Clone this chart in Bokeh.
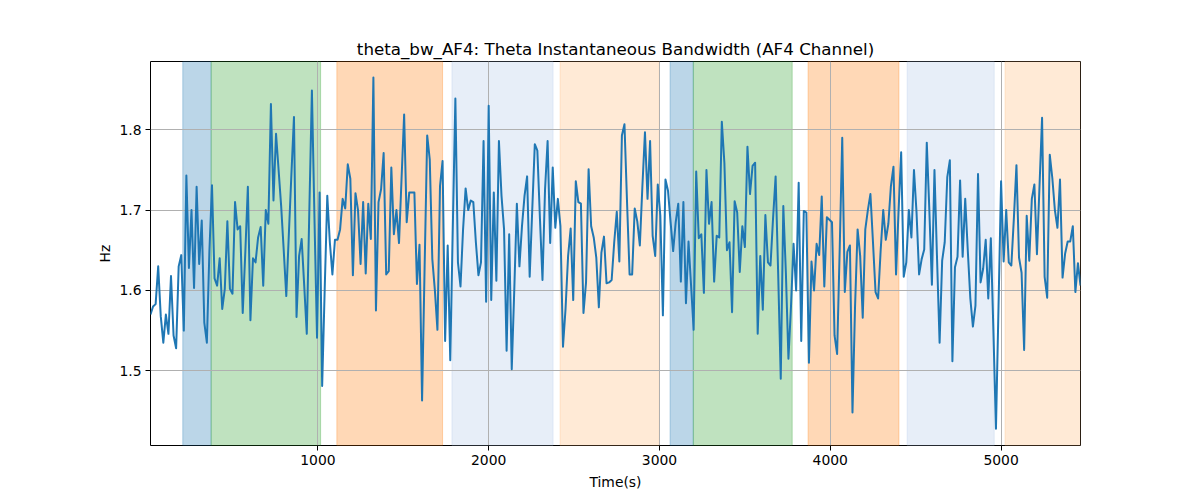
from bokeh.plotting import figure
from bokeh.models import Range1d, BoxAnnotation, FixedTicker
from bokeh.embed import file_html
from bokeh.resources import INLINE

# ---- data ----
t_start = 20      # first sample time (s)
t_step = 15       # sampling step (s)

bw_values = [
    1.57, 1.58, 1.583, 1.63, 1.568, 1.535, 1.57, 1.546, 1.618, 1.544, 1.528, 1.63, 1.644, 1.55, 1.743, 1.628,
    1.70, 1.603, 1.729, 1.633, 1.687, 1.56, 1.535, 1.65, 1.731, 1.615, 1.606, 1.64, 1.577, 1.602, 1.686, 1.602,
    1.596, 1.71, 1.676, 1.68, 1.572, 1.647, 1.729, 1.563, 1.64, 1.635, 1.666, 1.679, 1.606, 1.70,
    1.683, 1.832, 1.712, 1.795, 1.75, 1.705, 1.65, 1.593, 1.67, 1.745, 1.816, 1.567, 1.643, 1.664, 1.606, 1.546,
    1.70, 1.849, 1.69, 1.541, 1.722, 1.481, 1.602, 1.718, 1.66, 1.62, 1.663, 1.663, 1.676, 1.714, 1.702, 1.757,
    1.739, 1.619, 1.721, 1.70, 1.633, 1.71, 1.621, 1.708, 1.664, 1.865, 1.575, 1.71, 1.726,
    1.771, 1.62, 1.624, 1.753, 1.67, 1.70, 1.659, 1.74, 1.819, 1.685, 1.722, 1.722, 1.722, 1.608, 1.657, 1.463,
    1.63, 1.793, 1.763, 1.639, 1.60, 1.551, 1.73, 1.761, 1.537, 1.656, 1.513, 1.68, 1.839, 1.635, 1.605, 1.676,
    1.727, 1.70, 1.712, 1.71, 1.66, 1.619, 1.635, 1.786, 1.586, 1.83, 1.588, 1.722, 1.612,
    1.786, 1.718, 1.676, 1.525, 1.67, 1.502, 1.602, 1.708, 1.63, 1.68, 1.718, 1.742, 1.617, 1.70, 1.782, 1.774,
    1.69, 1.613, 1.726, 1.786, 1.659, 1.753, 1.678, 1.714, 1.68, 1.53, 1.577, 1.643, 1.677, 1.588, 1.736, 1.71,
    1.708, 1.572, 1.61, 1.751, 1.68, 1.666, 1.641, 1.579, 1.647, 1.667, 1.609, 1.61, 1.613,
    1.66, 1.698, 1.636, 1.793, 1.807, 1.71, 1.62, 1.62, 1.702, 1.686, 1.656, 1.73, 1.797, 1.714, 1.786, 1.668,
    1.643, 1.732, 1.693, 1.569, 1.738, 1.724, 1.685, 1.649, 1.685, 1.708, 1.611, 1.71, 1.584, 1.661, 1.606, 1.551,
    1.748, 1.665, 1.67, 1.597, 1.75, 1.683, 1.71, 1.611, 1.668, 1.666, 1.81, 1.759, 1.65, 1.66,
    1.573, 1.711, 1.697, 1.623, 1.68, 1.654, 1.779, 1.72, 1.755, 1.759, 1.546, 1.643, 1.576, 1.694, 1.635, 1.631,
    1.69, 1.742, 1.62, 1.49, 1.705, 1.622, 1.515, 1.58, 1.658, 1.60, 1.734, 1.537, 1.699, 1.697, 1.51, 1.636,
    1.60, 1.658, 1.644, 1.717, 1.605, 1.691, 1.688, 1.685, 1.544, 1.521, 1.65, 1.79, 1.598,
    1.648, 1.656, 1.448, 1.58, 1.676, 1.643, 1.566, 1.676, 1.70, 1.72, 1.66, 1.598, 1.59, 1.65, 1.70, 1.663,
    1.683, 1.73, 1.754, 1.62, 1.70, 1.772, 1.617, 1.635, 1.70, 1.666, 1.75, 1.697, 1.62, 1.639, 1.651, 1.784,
    1.70, 1.607, 1.75, 1.64, 1.535, 1.637, 1.66, 1.741, 1.762, 1.512, 1.629, 1.642, 1.737,
    1.642, 1.714, 1.65, 1.59, 1.555, 1.581, 1.745, 1.61, 1.627, 1.663, 1.59, 1.665, 1.55, 1.428, 1.58, 1.736,
    1.636, 1.70, 1.635, 1.631, 1.69, 1.756, 1.641, 1.622, 1.526, 1.693, 1.637, 1.714, 1.732, 1.645, 1.73, 1.815,
    1.617, 1.591, 1.769, 1.74, 1.70, 1.678, 1.738, 1.616, 1.646, 1.661, 1.661, 1.68, 1.598, 1.634, 1.606,
]
times = [t_start + t_step * i for i in range(len(bw_values))]

span_starts = [209, 375, 1111, 1785, 2418, 3062, 3198, 3870, 4450, 5023]
span_ends   = [375, 1016, 1730, 2377, 2999, 3198, 3777, 4402, 4960, 5470]
span_colors = ["#1f77b4", "#2ca02c", "#ff7f0e", "#aec7e8", "#ffbb78",
               "#1f77b4", "#2ca02c", "#ff7f0e", "#aec7e8", "#ffbb78"]

x_ticks = [1000, 2000, 3000, 4000, 5000]
y_ticks = [1.5, 1.6, 1.7, 1.8]

title_text = "theta_bw_AF4: Theta Instantaneous Bandwidth (AF4 Channel)"
x_label = "Time(s)"
y_label = "Hz"

# ---- figure ----
FONT = "DejaVu Sans"
p = figure(width=1184, height=492, output_backend="svg", toolbar_location=None,
           x_range=Range1d(times[0], times[-1]), y_range=Range1d(1.407, 1.885),
           min_border_left=150, min_border_right=104, min_border_top=61, min_border_bottom=47,
           title=title_text)
p.background_fill_color = "white"
p.border_fill_color = "white"

for s, e, c in zip(span_starts, span_ends, span_colors):
    p.add_layout(BoxAnnotation(left=s, right=e, fill_color=c, fill_alpha=0.3,
                               line_color=c, line_alpha=0.3, line_width=1, level="image"))

p.line(times, bw_values, line_color="#1f77b4", line_width=2, line_join="round")

p.title.text_font = FONT
p.title.text_font_size = "16.7px"
p.title.text_font_style = "normal"
p.title.align = "center"
p.title.text_color = "black"
p.title.standoff = 6

p.outline_line_color = "black"
p.outline_line_width = 1
p.outline_line_alpha = 1

for ax in (p.xaxis, p.yaxis):
    ax.axis_line_color = None
    ax.major_tick_out = 5
    ax.major_tick_in = 0
    ax.minor_tick_line_color = None
    ax.major_tick_line_color = "black"
    ax.major_label_text_font = FONT
    ax.major_label_text_font_size = "13.9px"
    ax.major_label_text_color = "black"
    ax.axis_label_text_font = FONT
    ax.axis_label_text_font_size = "13.9px"
    ax.axis_label_text_font_style = "normal"
    ax.axis_label_text_color = "black"
    ax.major_label_standoff = 4

p.xaxis.ticker = FixedTicker(ticks=x_ticks)
p.yaxis.ticker = FixedTicker(ticks=y_ticks)
p.xaxis.axis_label = x_label
p.yaxis.axis_label = y_label
p.xaxis.axis_label_standoff = 6
p.yaxis.axis_label_standoff = 3

p.xgrid.ticker = FixedTicker(ticks=x_ticks)
p.ygrid.ticker = FixedTicker(ticks=y_ticks)
for g in (p.xgrid, p.ygrid):
    g.grid_line_color = "#b0b0b0"
    g.grid_line_width = 1
    g.grid_line_alpha = 1

open("out.html", "w").write(file_html(p, INLINE))
